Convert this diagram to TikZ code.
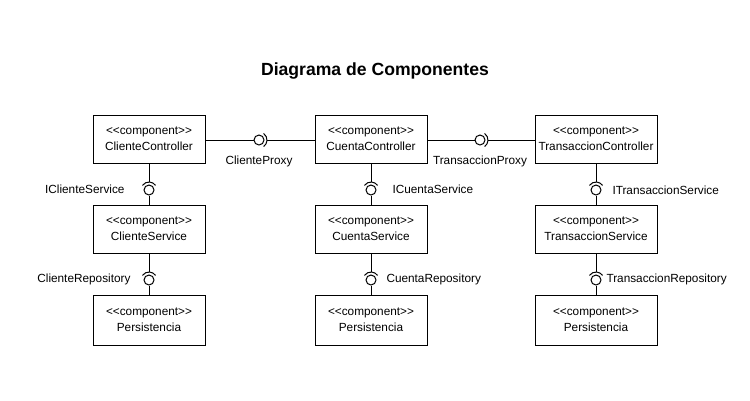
\documentclass[tikz,border=0pt]{standalone}
\usepackage{fontspec}
\setmainfont{Liberation Sans}[Ligatures=TeXOff]
\begin{document}
\begin{tikzpicture}[x=1pt,y=-1pt,line width=1pt,
  comp/.style={draw,minimum width=112pt,minimum height=48pt,align=center,inner sep=0pt,font=\fontsize{11.8}{16}\selectfont},
  lbl/.style={inner sep=0pt,font=\fontsize{11.8}{14}\selectfont},
  ball/.style={draw,circle,minimum size=10pt,inner sep=0pt}]
\useasboundingbox (0,0) rectangle (750,400);
\node[font=\bfseries\fontsize{17.6}{20}\selectfont] (title) at (375,71) {Diagrama de Componentes};
% boxes
\node[comp] (cc) at (149,139) {<<component>>\\ClienteController};
\node[comp] (uc) at (371,139) {<<component>>\\CuentaController};
\node[comp,minimum width=122pt] (tc) at (596,139) {<<component>>\\TransaccionController};
\node[comp] (cs) at (149,229) {<<component>>\\ClienteService};
\node[comp] (us) at (371,229) {<<component>>\\CuentaService};
\node[comp,minimum width=122pt] (ts) at (596,229) {<<component>>\\TransaccionService};
\node[comp,minimum height=50pt] (cp) at (149,320) {<<component>>\\Persistencia};
\node[comp,minimum height=50pt] (up) at (371,320) {<<component>>\\Persistencia};
\node[comp,minimum width=122pt,minimum height=50pt] (tp) at (596,320) {<<component>>\\Persistencia};
% horizontal ball-and-socket
\node[ball] (h1) at (259,140) {};
\coordinate (s1) at (267,140);
\draw (cc.east |- h1) -- (h1.west);
\draw (s1) -- (uc.west |- s1);
\draw (h1.center) ++(-55:8) arc[start angle=-55,end angle=55,radius=8];
\node[ball] (h2) at (480,140) {};
\coordinate (s2) at (488,140);
\draw (uc.east |- h2) -- (h2.west);
\draw (s2) -- (tc.west |- s2);
\draw (h2.center) ++(-55:8) arc[start angle=-55,end angle=55,radius=8];
% vertical ball-and-socket
\foreach \n/\x/\y/\top/\bot in {v1/149/190/cc/cs, v2/371/190/uc/us, v3/596/190/tc/ts,
                                 w1/149/280/cs/cp, w2/371/280/us/up, w3/596/280/ts/tp}{
  \node[ball] (\n) at (\x,\y) {};
  \coordinate (\n s) at (\x,\y-8);
  \draw (\top.south) -- (\n s);
  \draw (\n.south) -- (\bot.north);
  \draw (\n.center) ++(215:8) arc[start angle=215,end angle=325,radius=8];
}
% labels
\node[lbl] (l1) at (259,161) {ClienteProxy};
\node[lbl] (l2) at (480,161) {TransaccionProxy};
\node[lbl,anchor=east] (l3) at (125,189) {IClienteService};
\node[lbl,anchor=east] (l4) at (131,279) {ClienteRepository};
\node[lbl,anchor=west] (l5) at (392,189) {ICuentaService};
\node[lbl,anchor=west] (l6) at (386,279) {CuentaRepository};
\node[lbl,anchor=west] (l7) at (612,190) {ITransaccionService};
\node[lbl,anchor=west] (l8) at (606,279) {TransaccionRepository};
\end{tikzpicture}
\end{document}
